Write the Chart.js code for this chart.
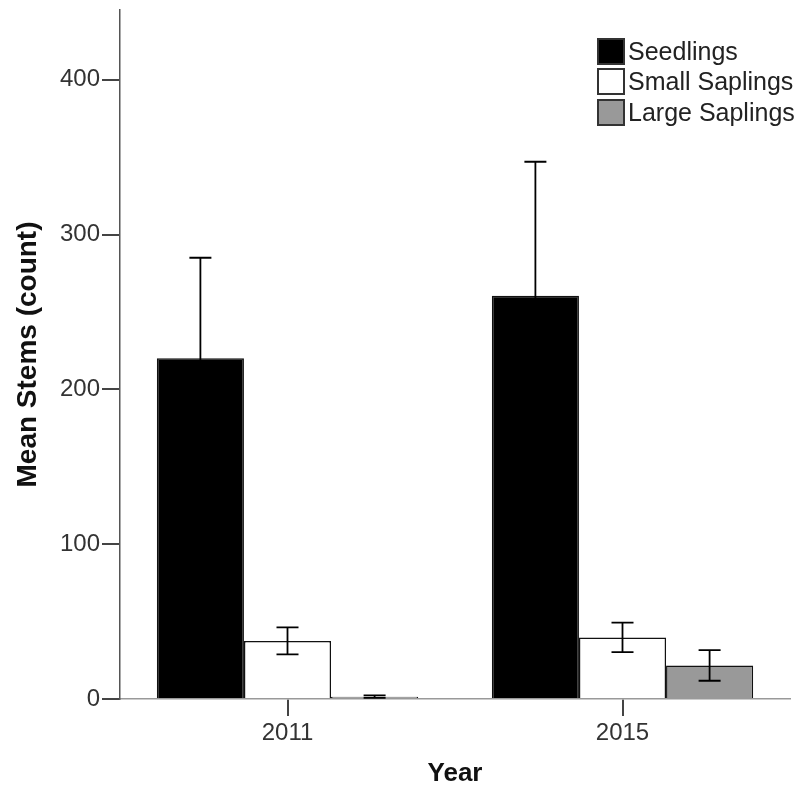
<!DOCTYPE html>
<html>
<head>
<meta charset="utf-8">
<script src="https://cdn.jsdelivr.net/npm/chart.js@4.4.1/dist/chart.umd.min.js"></script>
<style>
  html, body { margin: 0; padding: 0; background: #fff; }
  #wrap { position: relative; width: 811px; height: 790px; }
  #legend { position: absolute; left: 597px; top: 36px; font-family: "Liberation Sans", Arial, sans-serif; font-size: 25px; color: #222; }
  #legend .row { display: flex; align-items: center; height: 30.5px; }
  #legend .box { width: 24px; height: 23px; border: 2px solid #333; margin-right: 3px; box-sizing: content-box; }
</style>
</head>
<body>
<div id="wrap">
  <canvas id="chart" width="811" height="790"></canvas>
  <div id="legend"></div>
</div>
<script>
const years = ['2011', '2015'];
const seriesNames = ['Seedlings', 'Small Saplings', 'Large Saplings'];
const seedlings = [220, 260.5];
const smallSaplings = [37.5, 39.8];
const largeSaplings = [1.5, 21.7];
const seedlingsErr = [65, 86.5];
const smallSaplingsErr = [8.7, 9.5];
const largeSaplingsErr = [0.8, 9.9];
const yTicks = [0, 100, 200, 300, 400];

const fills = ['#000000', '#ffffff', '#999999'];
const errs = [seedlingsErr, smallSaplingsErr, largeSaplingsErr];

// error bars drawn from the y scale
const errorBars = {
  id: 'errorBars',
  afterDatasetsDraw(chart) {
    const ctx = chart.ctx;
    const y = chart.scales.y;
    ctx.save();
    ctx.strokeStyle = '#000';
    ctx.lineWidth = 1.8;
    chart.data.datasets.forEach((ds, i) => {
      const meta = chart.getDatasetMeta(i);
      meta.data.forEach((bar, j) => {
        const v = ds.data[j], e = errs[i][j];
        const top = y.getPixelForValue(v + e);
        const bot = y.getPixelForValue(v - e);
        const x = bar.x, half = 11;
        ctx.beginPath();
        ctx.moveTo(x, top); ctx.lineTo(x, bot);
        ctx.moveTo(x - half, top); ctx.lineTo(x + half, top);
        ctx.moveTo(x - half, bot); ctx.lineTo(x + half, bot);
        ctx.stroke();
      });
    });
    ctx.restore();
  }
};

const chart = new Chart(document.getElementById('chart'), {
  type: 'bar',
  data: {
    labels: years,
    datasets: [
      { label: seriesNames[0], data: seedlings, backgroundColor: fills[0] },
      { label: seriesNames[1], data: smallSaplings, backgroundColor: fills[1] },
      { label: seriesNames[2], data: largeSaplings, backgroundColor: fills[2] }
    ].map(d => Object.assign(d, {
      borderColor: '#111', borderWidth: 1.5,
      categoryPercentage: 0.78, barPercentage: 1.0
    }))
  },
  options: {
    responsive: false,
    animation: false,
    layout: { padding: { top: 10, right: 21, left: 0, bottom: 0 } },
    plugins: { legend: { display: false }, tooltip: { enabled: false } },
    scales: {
      x: {
        afterFit(s) { s.height = 91; },
        grid: { offset: false, drawOnChartArea: false, tickLength: 17, color: '#444', lineWidth: 2 },
        border: { color: '#999', width: 1.5 },
        ticks: { color: '#333', padding: 3, font: { family: 'Liberation Sans', size: 24 } },
        title: { display: true, text: 'Year', color: '#111', padding: { top: 0, bottom: 1 },
                 font: { family: 'Liberation Sans', size: 26, weight: 'bold' } }
      },
      y: {
        min: 0, max: 445,
        afterFit(s) { s.width = 120; s.paddingTop = 0; s.paddingBottom = 0; },
        afterBuildTicks(s) { s.ticks = yTicks.map(v => ({ value: v })); },
        grid: { drawOnChartArea: false, tickLength: 18, color: '#444', lineWidth: 2 },
        border: { color: '#555', width: 1.5 },
        ticks: { color: '#333', padding: 2, font: { family: 'Liberation Sans', size: 24 } },
        title: { display: true, text: 'Mean Stems (count)', color: '#111', padding: { top: 11, bottom: 0 },
                 font: { family: 'Liberation Sans', size: 28, weight: 'bold' } }
      }
    }
  },
  plugins: [errorBars]
});

const legend = document.getElementById('legend');
seriesNames.forEach((name, i) => {
  const row = document.createElement('div');
  row.className = 'row';
  const box = document.createElement('span');
  box.className = 'box';
  box.style.background = fills[i];
  const txt = document.createElement('span');
  txt.textContent = name;
  row.appendChild(box);
  row.appendChild(txt);
  legend.appendChild(row);
});
</script>
</body>
</html>
